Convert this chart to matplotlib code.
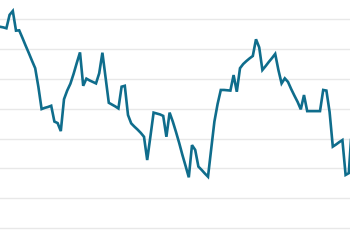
import matplotlib
matplotlib.use("Agg")
import matplotlib.pyplot as plt

values = [67.5, 67.3, 67.0, 71.5, 72.8, 66.2, 66.3, 63.8, 61.2, 58.7,
          56.1, 53.6, 47.3, 39.9, 40.3, 40.6, 41.0, 35.7, 35.2, 32.5,
          43.2, 46.1, 48.4, 51.7, 55.4, 58.9, 47.7, 50.1, 49.5, 49.0,
          48.5, 51.9, 58.8, 50.4, 42.0, 41.4, 40.8, 40.1, 47.4, 47.7,
          37.9, 35.1, 34.0, 33.0, 31.9, 30.6, 22.8, 30.7, 38.7, 38.4,
          38.1, 37.6, 30.6, 38.7, 35.7, 32.2, 28.5, 24.5, 20.8, 17.0,
          27.8, 26.2, 20.6, 19.5, 18.3, 17.2, 26.5, 35.7, 41.6, 46.3,
          46.3, 46.2, 46.1, 51.3, 45.7, 53.6, 55.0, 56.0, 56.9, 57.7,
          63.3, 60.6, 53.0, 54.3, 55.7, 57.0, 58.4, 53.0, 48.5, 50.2,
          49.0, 46.6, 44.4, 42.3, 39.8, 44.6, 39.2, 39.2, 39.2, 39.2,
          39.2, 46.3, 46.1, 38.9, 27.3, 28.0, 28.8, 29.5, 17.8, 18.4,
          34.6]
x = list(range(len(values)))
grid_levels = [0, 10, 20, 30, 40, 50, 60, 70]

fig = plt.figure(figsize=(3.5, 2.5), dpi=100)
ax = fig.add_axes([0, 0, 1, 1])
for g in grid_levels:
    ax.axhline(g, color="#e8e8e8", linewidth=1.0, zorder=1)
ax.plot(x, values, color="#0f6d8c", linewidth=1.9, solid_joinstyle="miter", zorder=3)
ax.set_xlim(0, 109.375)
ax.set_ylim(-7.38, 76.48)
ax.axis("off")
fig.savefig("out.png", dpi=100)
